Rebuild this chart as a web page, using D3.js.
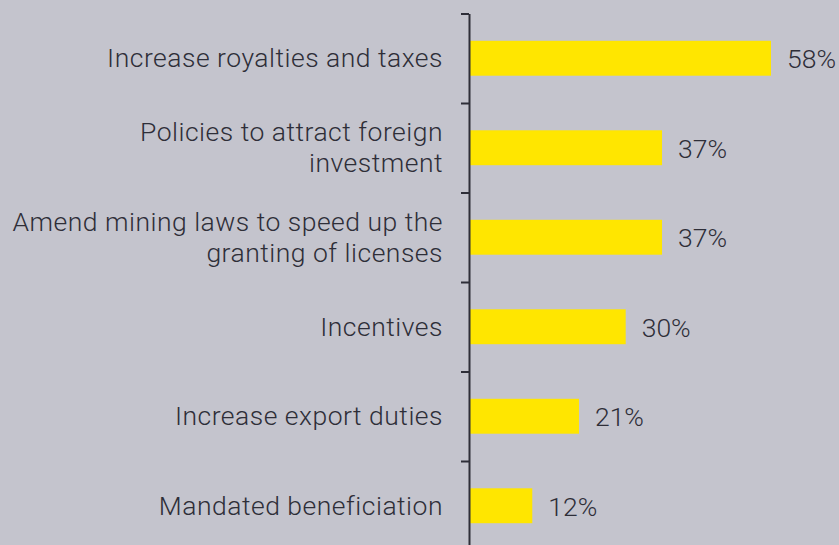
<!DOCTYPE html>
<html>
<head>
<meta charset="utf-8">
<script src="https://cdn.jsdelivr.net/npm/d3@7"></script>
<style>
  html, body { margin: 0; padding: 0; background: #c4c4cd; }
  svg { display: block; }
  text { font-family: Roboto, "Open Sans", sans-serif; font-weight: 300; fill: #2e2e38; }
</style>
</head>
<body>
<svg id="chart" width="839" height="545"></svg>
<script>
const categories = [
  ["Increase royalties and taxes"],
  ["Policies to attract foreign", "investment"],
  ["Amend mining laws to speed up the", "granting of licenses"],
  ["Incentives"],
  ["Increase export duties"],
  ["Mandated beneficiation"]
];
const values = [58, 37, 37, 30, 21, 12];
const valueLabels = ["58%", "37%", "37%", "30%", "21%", "12%"];

const W = 839, H = 545;
const svg = d3.select("#chart");
svg.append("rect").attr("width", W).attr("height", H).attr("fill", "#c4c4cd");

const keys = categories.map((c, i) => i);
const yTop = 13.5, yBot = 550.5;
const y = d3.scaleBand().domain(keys).range([yTop, yBot]).paddingInner(0.61).paddingOuter(0.305);
const x = d3.scaleLinear().domain([0, 58]).range([470, 771]);

// bars
svg.append("g").selectAll("rect").data(values).join("rect")
  .attr("x", x(0))
  .attr("y", (d, i) => y(i))
  .attr("width", d => x(d) - x(0))
  .attr("height", y.bandwidth())
  .attr("fill", "#ffe600");

// axis with ticks at band boundaries
const yb = d3.scaleLinear().domain([0, categories.length]).range([yTop, yBot]);
const axis = svg.append("g").attr("transform", "translate(469,0)")
  .call(d3.axisLeft(yb).tickValues(d3.range(0, categories.length + 1)).tickSize(8).tickSizeOuter(0).tickFormat(""));
axis.selectAll("path, line").attr("stroke", "#2e2e38").attr("stroke-width", 2);

// category labels
const fs = 26.5, lh = 31.3;
const lab = svg.append("g").selectAll("text").data(categories).join("text")
  .attr("text-anchor", "end")
  .attr("font-size", fs)
  .attr("letter-spacing", 0.5)
  .attr("x", 443)
  .attr("y", (d, i) => y(i) + y.bandwidth() / 2 + 9 - (d.length - 1) * lh / 2);
lab.selectAll("tspan").data(d => d).join("tspan")
  .attr("x", 443)
  .attr("dy", (d, j) => j === 0 ? 0 : lh)
  .text(d => d);

// value labels
svg.append("g").selectAll("text").data(values).join("text")
  .attr("x", d => x(d) + 16)
  .attr("y", (d, i) => y(i) + y.bandwidth() / 2 + 10)
  .attr("font-size", fs)
  .text((d, i) => valueLabels[i]);
</script>
</body>
</html>
